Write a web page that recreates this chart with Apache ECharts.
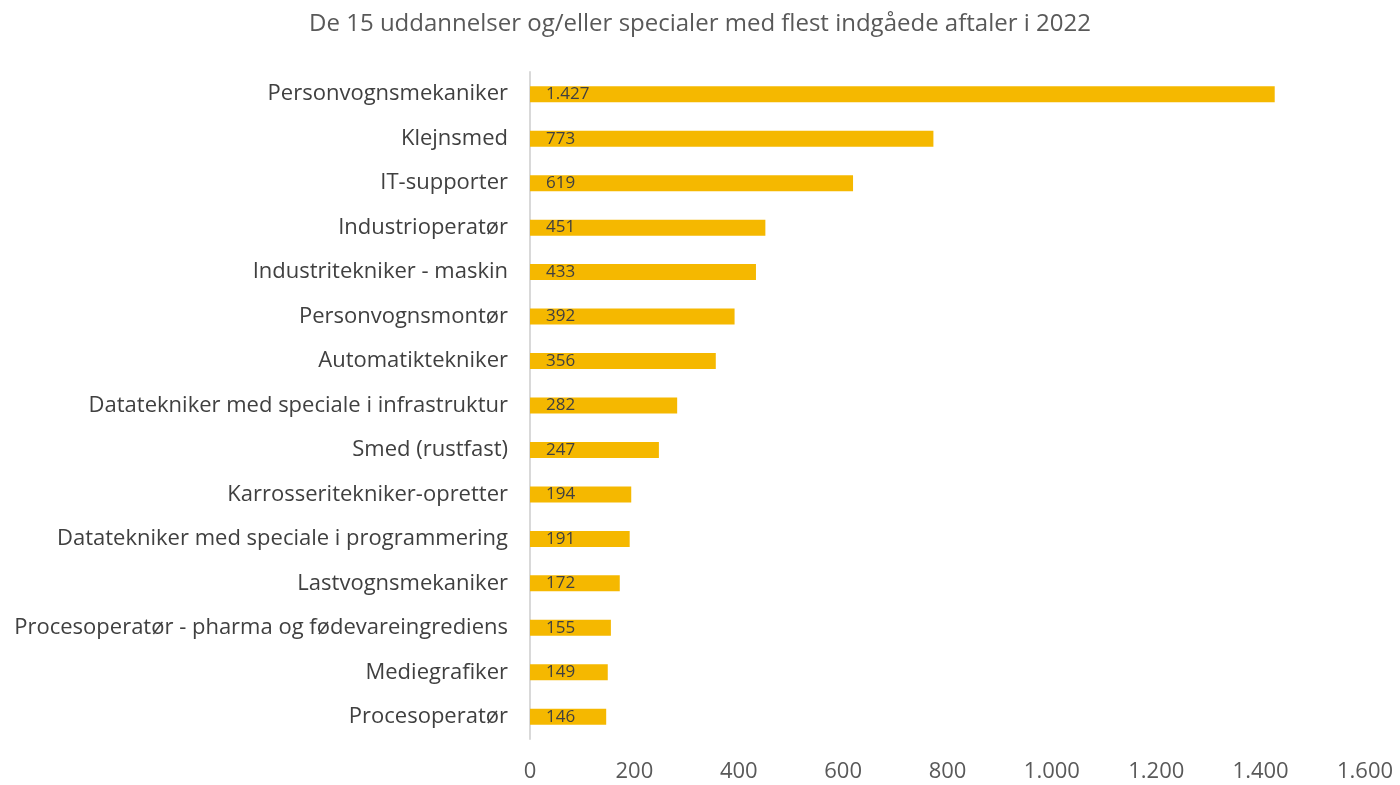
<!DOCTYPE html>
<html>
<head>
<meta charset="utf-8">
<script src="https://cdn.jsdelivr.net/npm/echarts@6/dist/echarts.min.js"></script>
<style>
  html, body { margin: 0; padding: 0; background: #fff; }
  #chart { width: 1400px; height: 785px; }
</style>
</head>
<body>
<div id="chart"></div>
<script>
// uddannelser, fra top til bund
const categories = [
  'Personvognsmekaniker',
  'Klejnsmed',
  'IT-supporter',
  'Industrioperatør',
  'Industritekniker - maskin',
  'Personvognsmontør',
  'Automatiktekniker',
  'Datatekniker med speciale i infrastruktur',
  'Smed (rustfast)',
  'Karrosseritekniker-opretter',
  'Datatekniker med speciale i programmering',
  'Lastvognsmekaniker',
  'Procesoperatør - pharma og fødevareingrediens',
  'Mediegrafiker',
  'Procesoperatør'
]
const aftaler = [1427, 773, 619, 451, 433, 392, 356, 282, 247, 194, 191, 172, 155, 149, 146]

// dansk tusindtalsseparator
const fmt = v => String(v).replace(/\B(?=(\d{3})+(?!\d))/g, '.')

const font = '"Open Sans", sans-serif'
const chart = echarts.init(document.getElementById('chart'))
chart.setOption({
  animation: false,
  textStyle: { fontFamily: font },
  title: {
    text: 'De 15 uddannelser og/eller specialer med flest indgåede aftaler i 2022',
    left: 'center',
    top: 7,
    textStyle: { color: '#595959', fontSize: 24, fontWeight: 'normal', fontFamily: font }
  },
  grid: { left: 530, right: 35, top: 72, bottom: 46 },
  xAxis: {
    type: 'value',
    min: 0,
    max: 1600,
    interval: 200,
    axisLine: { show: false },
    axisTick: { show: false },
    splitLine: { show: false },
    axisLabel: { color: '#595959', fontSize: 22, margin: 22, formatter: fmt }
  },
  yAxis: {
    type: 'category',
    inverse: true,
    data: categories,
    axisLine: { show: true, lineStyle: { color: '#d9d9d9', width: 2 } },
    axisTick: { show: false },
    axisLabel: { color: '#404040', fontSize: 22, margin: 22 }
  },
  series: [{
    type: 'bar',
    data: aftaler,
    barWidth: 16,
    itemStyle: { color: '#F5B800' },
    label: {
      show: true,
      position: 'insideLeft',
      distance: 16,
      color: '#404040',
      fontSize: 17,
      formatter: p => fmt(p.value)
    }
  }]
})
</script>
</body>
</html>
